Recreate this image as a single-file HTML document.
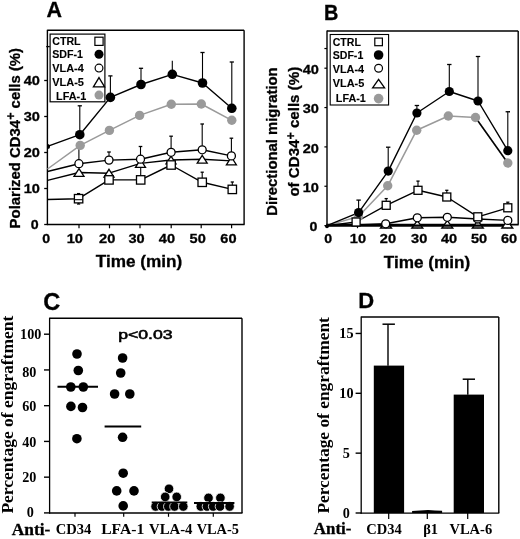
<!DOCTYPE html>
<html><head><meta charset="utf-8"><title>Figure</title>
<style>
html,body{margin:0;padding:0;background:#fff;}
body{width:520px;height:539px;overflow:hidden;font-family:"Liberation Sans", sans-serif;}
svg{display:block;will-change:transform;filter:blur(0.3px);}

</style></head>
<body>
<svg width="520" height="539" viewBox="0 0 520 539">
<rect width="520" height="539" fill="#fff"/>
<line x1="47.4" y1="30.3" x2="244.1" y2="30.3" stroke="#000" stroke-width="1.4"/>
<line x1="244.1" y1="30.3" x2="244.1" y2="224.5" stroke="#000" stroke-width="1.4"/>
<line x1="47.4" y1="29.8" x2="47.4" y2="225.1" stroke="#000" stroke-width="1.4"/>
<line x1="46.8" y1="224.5" x2="244.6" y2="224.5" stroke="#000" stroke-width="1.4"/>
<line x1="44.2" y1="224.5" x2="47.4" y2="224.5" stroke="#000" stroke-width="1.3"/>
<line x1="44.2" y1="188.5" x2="47.4" y2="188.5" stroke="#000" stroke-width="1.3"/>
<line x1="44.2" y1="152.5" x2="47.4" y2="152.5" stroke="#000" stroke-width="1.3"/>
<line x1="44.2" y1="116.5" x2="47.4" y2="116.5" stroke="#000" stroke-width="1.3"/>
<line x1="44.2" y1="80.5" x2="47.4" y2="80.5" stroke="#000" stroke-width="1.3"/>
<line x1="46.2" y1="46.6" x2="49.8" y2="46.6" stroke="#000" stroke-width="1.3"/>
<text x="38.7" y="229.2" font-size="13.2" font-family='"Liberation Sans", sans-serif' font-weight="bold" text-anchor="end" fill="#000" stroke="#000" stroke-width="0.3" textLength="7.9" lengthAdjust="spacingAndGlyphs">0</text>
<text x="39.9" y="193.2" font-size="13.2" font-family='"Liberation Sans", sans-serif' font-weight="bold" text-anchor="end" fill="#000" stroke="#000" stroke-width="0.3" textLength="16.2" lengthAdjust="spacingAndGlyphs">10</text>
<text x="39.9" y="157.2" font-size="13.2" font-family='"Liberation Sans", sans-serif' font-weight="bold" text-anchor="end" fill="#000" stroke="#000" stroke-width="0.3" textLength="16.2" lengthAdjust="spacingAndGlyphs">20</text>
<text x="39.9" y="121.2" font-size="13.2" font-family='"Liberation Sans", sans-serif' font-weight="bold" text-anchor="end" fill="#000" stroke="#000" stroke-width="0.3" textLength="16.2" lengthAdjust="spacingAndGlyphs">30</text>
<text x="39.9" y="85.2" font-size="13.2" font-family='"Liberation Sans", sans-serif' font-weight="bold" text-anchor="end" fill="#000" stroke="#000" stroke-width="0.3" textLength="16.2" lengthAdjust="spacingAndGlyphs">40</text>
<line x1="79" y1="224.5" x2="79" y2="228.3" stroke="#000" stroke-width="1.2"/>
<line x1="109.5" y1="224.5" x2="109.5" y2="228.3" stroke="#000" stroke-width="1.2"/>
<line x1="140" y1="224.5" x2="140" y2="228.3" stroke="#000" stroke-width="1.2"/>
<line x1="171.2" y1="224.5" x2="171.2" y2="228.3" stroke="#000" stroke-width="1.2"/>
<line x1="201.2" y1="224.5" x2="201.2" y2="228.3" stroke="#000" stroke-width="1.2"/>
<line x1="231.6" y1="224.5" x2="231.6" y2="228.3" stroke="#000" stroke-width="1.2"/>
<text x="46.2" y="242.9" font-size="13.2" font-family='"Liberation Sans", sans-serif' font-weight="bold" text-anchor="middle" fill="#000" stroke="#000" stroke-width="0.3" textLength="7.9" lengthAdjust="spacingAndGlyphs">0</text>
<text x="74.75" y="242.9" font-size="13.2" font-family='"Liberation Sans", sans-serif' font-weight="bold" text-anchor="middle" fill="#000" stroke="#000" stroke-width="0.3" textLength="16.2" lengthAdjust="spacingAndGlyphs">10</text>
<text x="107.2" y="242.9" font-size="13.2" font-family='"Liberation Sans", sans-serif' font-weight="bold" text-anchor="middle" fill="#000" stroke="#000" stroke-width="0.3" textLength="16.2" lengthAdjust="spacingAndGlyphs">20</text>
<text x="136.5" y="242.9" font-size="13.2" font-family='"Liberation Sans", sans-serif' font-weight="bold" text-anchor="middle" fill="#000" stroke="#000" stroke-width="0.3" textLength="16.2" lengthAdjust="spacingAndGlyphs">30</text>
<text x="166.9" y="242.9" font-size="13.2" font-family='"Liberation Sans", sans-serif' font-weight="bold" text-anchor="middle" fill="#000" stroke="#000" stroke-width="0.3" textLength="16.2" lengthAdjust="spacingAndGlyphs">40</text>
<text x="197.7" y="242.9" font-size="13.2" font-family='"Liberation Sans", sans-serif' font-weight="bold" text-anchor="middle" fill="#000" stroke="#000" stroke-width="0.3" textLength="16.2" lengthAdjust="spacingAndGlyphs">50</text>
<text x="228.4" y="242.9" font-size="13.2" font-family='"Liberation Sans", sans-serif' font-weight="bold" text-anchor="middle" fill="#000" stroke="#000" stroke-width="0.3" textLength="16.2" lengthAdjust="spacingAndGlyphs">60</text>
<text x="139" y="267.3" font-size="16.2" font-family='"Liberation Sans", sans-serif' font-weight="bold" text-anchor="middle" fill="#000" stroke="#000" stroke-width="0.3" textLength="86.5" lengthAdjust="spacingAndGlyphs">Time (min)</text>
<text x="46.4" y="17.3" font-size="21.5" font-family='"Liberation Sans", sans-serif' font-weight="bold" text-anchor="start" fill="#000" stroke="#000" stroke-width="0.3" textLength="15.5" lengthAdjust="spacingAndGlyphs">A</text>
<text x="20" y="228.4" font-size="14.92" font-family='"Liberation Sans", sans-serif' font-weight="bold" text-anchor="start" fill="#000" stroke="#000" stroke-width="0.3" transform="rotate(-90 20 228.4)">Polarized CD34<tspan font-size="12.5" dy="-4.6">+</tspan><tspan dy="4.6"> cells (%)</tspan></text>
<line x1="79.8" y1="134.7" x2="79.8" y2="105.8" stroke="#000" stroke-width="1.1"/>
<line x1="77.7" y1="105.8" x2="81.9" y2="105.8" stroke="#000" stroke-width="1.3"/>
<line x1="78.9" y1="163.7" x2="78.9" y2="145.4" stroke="#000" stroke-width="1.1"/>
<line x1="78.6" y1="198.7" x2="78.6" y2="193.6" stroke="#000" stroke-width="1.1"/>
<line x1="77" y1="193.6" x2="80.2" y2="193.6" stroke="#000" stroke-width="1.3"/>
<line x1="110.4" y1="97.4" x2="110.4" y2="75.9" stroke="#000" stroke-width="1.1"/>
<line x1="108.3" y1="75.9" x2="112.5" y2="75.9" stroke="#000" stroke-width="1.3"/>
<line x1="109" y1="160.1" x2="109" y2="152" stroke="#000" stroke-width="1.1"/>
<line x1="107.2" y1="152" x2="110.8" y2="152" stroke="#000" stroke-width="1.3"/>
<line x1="141" y1="84.5" x2="141" y2="68.3" stroke="#000" stroke-width="1.1"/>
<line x1="138.9" y1="68.3" x2="143.1" y2="68.3" stroke="#000" stroke-width="1.3"/>
<line x1="140.5" y1="159.2" x2="140.5" y2="146.5" stroke="#000" stroke-width="1.1"/>
<line x1="138.7" y1="146.5" x2="142.3" y2="146.5" stroke="#000" stroke-width="1.3"/>
<line x1="140.7" y1="179.9" x2="140.7" y2="167" stroke="#000" stroke-width="1.1"/>
<line x1="139.1" y1="167" x2="142.3" y2="167" stroke="#000" stroke-width="1.3"/>
<line x1="172.3" y1="74.3" x2="172.3" y2="60.75" stroke="#000" stroke-width="1.1"/>
<line x1="171.1" y1="152.3" x2="171.1" y2="136.2" stroke="#000" stroke-width="1.1"/>
<line x1="169.3" y1="136.2" x2="172.9" y2="136.2" stroke="#000" stroke-width="1.3"/>
<line x1="202.5" y1="83" x2="202.5" y2="52.5" stroke="#000" stroke-width="1.1"/>
<line x1="200.4" y1="52.5" x2="204.6" y2="52.5" stroke="#000" stroke-width="1.3"/>
<line x1="202.2" y1="149.8" x2="202.2" y2="124" stroke="#000" stroke-width="1.1"/>
<line x1="200.4" y1="124" x2="204" y2="124" stroke="#000" stroke-width="1.3"/>
<line x1="202.2" y1="182.3" x2="202.2" y2="172.2" stroke="#000" stroke-width="1.1"/>
<line x1="200.6" y1="172.2" x2="203.8" y2="172.2" stroke="#000" stroke-width="1.3"/>
<line x1="231.8" y1="108.3" x2="231.8" y2="62" stroke="#000" stroke-width="1.1"/>
<line x1="229.7" y1="62" x2="233.9" y2="62" stroke="#000" stroke-width="1.3"/>
<line x1="231.4" y1="155.9" x2="231.4" y2="138.2" stroke="#000" stroke-width="1.1"/>
<line x1="229.6" y1="138.2" x2="233.2" y2="138.2" stroke="#000" stroke-width="1.3"/>
<line x1="232.3" y1="189.4" x2="232.3" y2="182" stroke="#000" stroke-width="1.1"/>
<line x1="230.7" y1="182" x2="233.9" y2="182" stroke="#000" stroke-width="1.3"/>
<line x1="78.6" y1="198.7" x2="78.6" y2="204" stroke="#000" stroke-width="1.1"/>
<line x1="77" y1="204" x2="80.2" y2="204" stroke="#000" stroke-width="1.3"/>
<polyline points="47.5,169 80.2,145.4 109.4,130.4 139.6,115.4 171.3,104.3 201.3,104 231.8,120.3" fill="none" stroke="#9a9a9a" stroke-width="1.5" stroke-linejoin="round"/>
<polyline points="47.5,199.5 78.6,198.7 109,179.9 140.7,179.9 171.1,165 202.2,182.3 232.3,189.4" fill="none" stroke="#000" stroke-width="1.4" stroke-linejoin="round"/>
<polyline points="47.5,180.4 79,172.5 109,173.2 140.5,163.4 171,160 202.2,159.3 231.4,160.9" fill="none" stroke="#000" stroke-width="1.4" stroke-linejoin="round"/>
<polyline points="47.5,171.5 78.9,163.7 109,160.1 140.5,159.2 171.1,152.3 202.2,149.8 231.4,155.9" fill="none" stroke="#000" stroke-width="1.4" stroke-linejoin="round"/>
<polyline points="47.5,146.3 79.8,134.7 110.4,97.4 141,84.5 172.3,74.3 202.5,83 231.8,108.3" fill="none" stroke="#000" stroke-width="1.4" stroke-linejoin="round"/>
<circle cx="80.2" cy="145.4" r="4.7" fill="#9a9a9a" stroke="none" stroke-width="0"/>
<polygon points="79,168.6 84,176.4 74,176.4" fill="#fff" stroke="#000" stroke-width="1.3" stroke-linejoin="miter"/>
<rect x="74.4" y="194.5" width="8.4" height="8.4" fill="#fff" stroke="#000" stroke-width="1.3"/>
<circle cx="78.9" cy="163.7" r="4" fill="#fff" stroke="#000" stroke-width="1.3"/>
<circle cx="79.8" cy="134.7" r="4.8" fill="#000" stroke="none" stroke-width="0"/>
<circle cx="109.4" cy="130.4" r="4.7" fill="#9a9a9a" stroke="none" stroke-width="0"/>
<polygon points="109,169.3 114,177.1 104,177.1" fill="#fff" stroke="#000" stroke-width="1.3" stroke-linejoin="miter"/>
<rect x="104.8" y="175.7" width="8.4" height="8.4" fill="#fff" stroke="#000" stroke-width="1.3"/>
<circle cx="109" cy="160.1" r="4" fill="#fff" stroke="#000" stroke-width="1.3"/>
<circle cx="110.4" cy="97.4" r="4.8" fill="#000" stroke="none" stroke-width="0"/>
<circle cx="139.6" cy="115.4" r="4.7" fill="#9a9a9a" stroke="none" stroke-width="0"/>
<polygon points="140.5,159.5 145.5,167.3 135.5,167.3" fill="#fff" stroke="#000" stroke-width="1.3" stroke-linejoin="miter"/>
<rect x="136.5" y="175.7" width="8.4" height="8.4" fill="#fff" stroke="#000" stroke-width="1.3"/>
<circle cx="140.5" cy="159.2" r="4" fill="#fff" stroke="#000" stroke-width="1.3"/>
<circle cx="141" cy="84.5" r="4.8" fill="#000" stroke="none" stroke-width="0"/>
<circle cx="171.3" cy="104.3" r="4.7" fill="#9a9a9a" stroke="none" stroke-width="0"/>
<polygon points="171,156.1 176,163.9 166,163.9" fill="#fff" stroke="#000" stroke-width="1.3" stroke-linejoin="miter"/>
<rect x="166.9" y="160.8" width="8.4" height="8.4" fill="#fff" stroke="#000" stroke-width="1.3"/>
<circle cx="171.1" cy="152.3" r="4" fill="#fff" stroke="#000" stroke-width="1.3"/>
<circle cx="172.3" cy="74.3" r="4.8" fill="#000" stroke="none" stroke-width="0"/>
<circle cx="201.3" cy="104" r="4.7" fill="#9a9a9a" stroke="none" stroke-width="0"/>
<polygon points="202.2,155.4 207.2,163.2 197.2,163.2" fill="#fff" stroke="#000" stroke-width="1.3" stroke-linejoin="miter"/>
<rect x="198" y="178.1" width="8.4" height="8.4" fill="#fff" stroke="#000" stroke-width="1.3"/>
<circle cx="202.2" cy="149.8" r="4" fill="#fff" stroke="#000" stroke-width="1.3"/>
<circle cx="202.5" cy="83" r="4.8" fill="#000" stroke="none" stroke-width="0"/>
<circle cx="231.8" cy="120.3" r="4.7" fill="#9a9a9a" stroke="none" stroke-width="0"/>
<polygon points="231.4,157 236.4,164.8 226.4,164.8" fill="#fff" stroke="#000" stroke-width="1.3" stroke-linejoin="miter"/>
<rect x="228.1" y="185.2" width="8.4" height="8.4" fill="#fff" stroke="#000" stroke-width="1.3"/>
<circle cx="231.4" cy="155.9" r="4" fill="#fff" stroke="#000" stroke-width="1.3"/>
<circle cx="231.8" cy="108.3" r="4.8" fill="#000" stroke="none" stroke-width="0"/>
<line x1="74.6" y1="199.7" x2="82.6" y2="199.7" stroke="#000" stroke-width="1.1"/>
<path d="M47.5,143.9 A2.5,2.5 0 0 1 47.5,148.9 Z" fill="#000"/>
<rect x="50.1" y="34.1" width="54.8" height="67.7" fill="#fff" stroke="#000" stroke-width="1.2"/>
<text x="52.2" y="44.8" font-size="10" font-family='"Liberation Sans", sans-serif' font-weight="bold" text-anchor="start" fill="#000" stroke="#000" stroke-width="0.1" textLength="28.4" lengthAdjust="spacingAndGlyphs">CTRL</text>
<text x="52.2" y="57.9" font-size="10" font-family='"Liberation Sans", sans-serif' font-weight="bold" text-anchor="start" fill="#000" stroke="#000" stroke-width="0.1" textLength="30.8" lengthAdjust="spacingAndGlyphs">SDF-1</text>
<text x="52.2" y="71.6" font-size="10" font-family='"Liberation Sans", sans-serif' font-weight="bold" text-anchor="start" fill="#000" stroke="#000" stroke-width="0.1" textLength="31.6" lengthAdjust="spacingAndGlyphs">VLA-4</text>
<text x="52.2" y="86.1" font-size="10" font-family='"Liberation Sans", sans-serif' font-weight="bold" text-anchor="start" fill="#000" stroke="#000" stroke-width="0.1" textLength="31.8" lengthAdjust="spacingAndGlyphs">VLA-5</text>
<text x="56" y="99.6" font-size="10" font-family='"Liberation Sans", sans-serif' font-weight="bold" text-anchor="start" fill="#000" stroke="#000" stroke-width="0.1" textLength="30.2" lengthAdjust="spacingAndGlyphs">LFA-1</text>
<rect x="94.9" y="37.2" width="8.2" height="8.2" fill="#fff" stroke="#000" stroke-width="1.2"/>
<circle cx="99" cy="54.2" r="4.5" fill="#000" stroke="none" stroke-width="0"/>
<circle cx="99" cy="68.1" r="3.9" fill="#fff" stroke="#000" stroke-width="1.2"/>
<polygon points="99,77.6 104.6,86.8 93.4,86.8" fill="#fff" stroke="#000" stroke-width="1.3" stroke-linejoin="miter"/>
<circle cx="99" cy="95.1" r="4.5" fill="#9a9a9a" stroke="none" stroke-width="0"/>
<line x1="327" y1="31" x2="518.2" y2="31" stroke="#000" stroke-width="1.4"/>
<line x1="518.2" y1="31" x2="518.2" y2="224.6" stroke="#000" stroke-width="1.4"/>
<line x1="327" y1="30.5" x2="327" y2="225.2" stroke="#000" stroke-width="1.4"/>
<line x1="326.4" y1="224.6" x2="518.7" y2="224.6" stroke="#000" stroke-width="1.6"/>
<line x1="324.4" y1="225.6" x2="327" y2="225.6" stroke="#000" stroke-width="1.2"/>
<line x1="324.4" y1="186.25" x2="327" y2="186.25" stroke="#000" stroke-width="1.2"/>
<line x1="324.4" y1="146.9" x2="327" y2="146.9" stroke="#000" stroke-width="1.2"/>
<line x1="324.4" y1="107.55" x2="327" y2="107.55" stroke="#000" stroke-width="1.2"/>
<line x1="324.4" y1="68.2" x2="327" y2="68.2" stroke="#000" stroke-width="1.2"/>
<line x1="324.4" y1="48.53" x2="327" y2="48.53" stroke="#000" stroke-width="1.2"/>
<text x="317.3" y="231.2" font-size="13.2" font-family='"Liberation Sans", sans-serif' font-weight="bold" text-anchor="end" fill="#000" stroke="#000" stroke-width="0.3" textLength="7.9" lengthAdjust="spacingAndGlyphs">0</text>
<text x="318.9" y="191.85" font-size="13.2" font-family='"Liberation Sans", sans-serif' font-weight="bold" text-anchor="end" fill="#000" stroke="#000" stroke-width="0.3" textLength="16.2" lengthAdjust="spacingAndGlyphs">10</text>
<text x="318.9" y="152.5" font-size="13.2" font-family='"Liberation Sans", sans-serif' font-weight="bold" text-anchor="end" fill="#000" stroke="#000" stroke-width="0.3" textLength="16.2" lengthAdjust="spacingAndGlyphs">20</text>
<text x="318.9" y="113.15" font-size="13.2" font-family='"Liberation Sans", sans-serif' font-weight="bold" text-anchor="end" fill="#000" stroke="#000" stroke-width="0.3" textLength="16.2" lengthAdjust="spacingAndGlyphs">30</text>
<text x="318.9" y="73.8" font-size="13.2" font-family='"Liberation Sans", sans-serif' font-weight="bold" text-anchor="end" fill="#000" stroke="#000" stroke-width="0.3" textLength="16.2" lengthAdjust="spacingAndGlyphs">40</text>
<line x1="357.5" y1="224.6" x2="357.5" y2="228.2" stroke="#000" stroke-width="1.2"/>
<line x1="386.5" y1="224.6" x2="386.5" y2="228.2" stroke="#000" stroke-width="1.2"/>
<line x1="417.3" y1="224.6" x2="417.3" y2="228.2" stroke="#000" stroke-width="1.2"/>
<line x1="447.3" y1="224.6" x2="447.3" y2="228.2" stroke="#000" stroke-width="1.2"/>
<line x1="477.8" y1="224.6" x2="477.8" y2="228.2" stroke="#000" stroke-width="1.2"/>
<line x1="507.5" y1="224.6" x2="507.5" y2="228.2" stroke="#000" stroke-width="1.2"/>
<text x="328.2" y="243" font-size="13.2" font-family='"Liberation Sans", sans-serif' font-weight="bold" text-anchor="middle" fill="#000" stroke="#000" stroke-width="0.3" textLength="7.9" lengthAdjust="spacingAndGlyphs">0</text>
<text x="357.9" y="243" font-size="13.2" font-family='"Liberation Sans", sans-serif' font-weight="bold" text-anchor="middle" fill="#000" stroke="#000" stroke-width="0.3" textLength="16.2" lengthAdjust="spacingAndGlyphs">10</text>
<text x="387.9" y="243" font-size="13.2" font-family='"Liberation Sans", sans-serif' font-weight="bold" text-anchor="middle" fill="#000" stroke="#000" stroke-width="0.3" textLength="16.2" lengthAdjust="spacingAndGlyphs">20</text>
<text x="419.2" y="243" font-size="13.2" font-family='"Liberation Sans", sans-serif' font-weight="bold" text-anchor="middle" fill="#000" stroke="#000" stroke-width="0.3" textLength="16.2" lengthAdjust="spacingAndGlyphs">30</text>
<text x="449" y="243" font-size="13.2" font-family='"Liberation Sans", sans-serif' font-weight="bold" text-anchor="middle" fill="#000" stroke="#000" stroke-width="0.3" textLength="16.2" lengthAdjust="spacingAndGlyphs">40</text>
<text x="479" y="243" font-size="13.2" font-family='"Liberation Sans", sans-serif' font-weight="bold" text-anchor="middle" fill="#000" stroke="#000" stroke-width="0.3" textLength="16.2" lengthAdjust="spacingAndGlyphs">50</text>
<text x="509" y="243" font-size="13.2" font-family='"Liberation Sans", sans-serif' font-weight="bold" text-anchor="middle" fill="#000" stroke="#000" stroke-width="0.3" textLength="16.2" lengthAdjust="spacingAndGlyphs">60</text>
<text x="427" y="268.1" font-size="16.2" font-family='"Liberation Sans", sans-serif' font-weight="bold" text-anchor="middle" fill="#000" stroke="#000" stroke-width="0.3" textLength="86.5" lengthAdjust="spacingAndGlyphs">Time (min)</text>
<text x="324" y="19.5" font-size="21.5" font-family='"Liberation Sans", sans-serif' font-weight="bold" text-anchor="start" fill="#000" stroke="#000" stroke-width="0.3" textLength="14.4" lengthAdjust="spacingAndGlyphs">B</text>
<text x="277.3" y="215.8" font-size="14.85" font-family='"Liberation Sans", sans-serif' font-weight="bold" text-anchor="start" fill="#000" stroke="#000" stroke-width="0.3" transform="rotate(-90 277.3 215.8)">Directional migration</text>
<text x="299.4" y="196.6" font-size="15.1" font-family='"Liberation Sans", sans-serif' font-weight="bold" text-anchor="start" fill="#000" stroke="#000" stroke-width="0.3" transform="rotate(-90 299.4 196.6)">of CD34<tspan font-size="12.5" dy="-4.6">+</tspan><tspan dy="4.6"> cells (%)</tspan></text>
<line x1="358.6" y1="212.6" x2="358.6" y2="200.1" stroke="#000" stroke-width="1.1"/>
<line x1="356.4" y1="200.1" x2="360.8" y2="200.1" stroke="#000" stroke-width="1.3"/>
<line x1="388.2" y1="171.1" x2="388.2" y2="147.2" stroke="#000" stroke-width="1.1"/>
<line x1="386" y1="147.2" x2="390.4" y2="147.2" stroke="#000" stroke-width="1.3"/>
<line x1="386.2" y1="205.3" x2="386.2" y2="198.6" stroke="#000" stroke-width="1.1"/>
<line x1="384.6" y1="198.6" x2="387.8" y2="198.6" stroke="#000" stroke-width="1.3"/>
<line x1="416.9" y1="113" x2="416.9" y2="105.5" stroke="#000" stroke-width="1.1"/>
<line x1="414.7" y1="105.5" x2="419.1" y2="105.5" stroke="#000" stroke-width="1.3"/>
<line x1="418" y1="190.3" x2="418" y2="181.1" stroke="#000" stroke-width="1.1"/>
<line x1="416.4" y1="181.1" x2="419.6" y2="181.1" stroke="#000" stroke-width="1.3"/>
<line x1="449.3" y1="91.5" x2="449.3" y2="64.5" stroke="#000" stroke-width="1.1"/>
<line x1="447.1" y1="64.5" x2="451.5" y2="64.5" stroke="#000" stroke-width="1.3"/>
<line x1="446.8" y1="197" x2="446.8" y2="190.3" stroke="#000" stroke-width="1.1"/>
<line x1="445.2" y1="190.3" x2="448.4" y2="190.3" stroke="#000" stroke-width="1.3"/>
<line x1="478" y1="101" x2="478" y2="56.5" stroke="#000" stroke-width="1.1"/>
<line x1="475.8" y1="56.5" x2="480.2" y2="56.5" stroke="#000" stroke-width="1.3"/>
<line x1="507.8" y1="150.7" x2="507.8" y2="111.75" stroke="#000" stroke-width="1.1"/>
<line x1="505.6" y1="111.75" x2="510" y2="111.75" stroke="#000" stroke-width="1.3"/>
<line x1="507.8" y1="207.8" x2="507.8" y2="202.2" stroke="#000" stroke-width="1.1"/>
<line x1="506.2" y1="202.2" x2="509.4" y2="202.2" stroke="#000" stroke-width="1.3"/>
<polyline points="327,225.6 358.5,216.5 387.7,185.8 416.7,130.2 448.3,116 475.5,117.5 507.8,163" fill="none" stroke="#9a9a9a" stroke-width="1.5" stroke-linejoin="round"/>
<polyline points="475.5,117.5 507.8,163" fill="none" stroke="#000" stroke-width="1.4" stroke-linejoin="round"/>
<polyline points="327,225.6 356.1,222 386.2,205.3 418,190.3 446.8,197 477.8,216.8 507.8,207.8" fill="none" stroke="#000" stroke-width="1.4" stroke-linejoin="round"/>
<polyline points="327,225.6 357,225 385.7,223.8 417.3,217.8 447.3,217.3 477.8,219 507.8,220.4" fill="none" stroke="#000" stroke-width="1.4" stroke-linejoin="round"/>
<polyline points="327,225.6 358.6,212.6 388.2,171.1 416.9,113 449.3,91.5 478,101 507.8,150.7" fill="none" stroke="#000" stroke-width="1.4" stroke-linejoin="round"/>
<polygon points="386,220.6 391.5,228 380.5,228" fill="#fff" stroke="#000" stroke-width="1.3" stroke-linejoin="miter"/>
<polygon points="417.3,220.6 422.8,228 411.8,228" fill="#fff" stroke="#000" stroke-width="1.3" stroke-linejoin="miter"/>
<polygon points="447.3,220.6 452.8,228 441.8,228" fill="#fff" stroke="#000" stroke-width="1.3" stroke-linejoin="miter"/>
<polygon points="477.8,220.6 483.3,228 472.3,228" fill="#fff" stroke="#000" stroke-width="1.3" stroke-linejoin="miter"/>
<polygon points="507.3,220.6 512.8,228 501.8,228" fill="#fff" stroke="#000" stroke-width="1.3" stroke-linejoin="miter"/>
<line x1="327" y1="225.6" x2="503.5" y2="225.6" stroke="#000" stroke-width="2.4"/>
<circle cx="358.5" cy="216.5" r="4.7" fill="#9a9a9a" stroke="none" stroke-width="0"/>
<rect x="352.1" y="218" width="8" height="8" fill="#fff" stroke="#000" stroke-width="1.3"/>
<circle cx="358.6" cy="212.6" r="4.6" fill="#000" stroke="none" stroke-width="0"/>
<circle cx="387.7" cy="185.8" r="4.7" fill="#9a9a9a" stroke="none" stroke-width="0"/>
<circle cx="385.7" cy="223.8" r="4" fill="#fff" stroke="#000" stroke-width="1.3"/>
<rect x="382.2" y="201.3" width="8" height="8" fill="#fff" stroke="#000" stroke-width="1.3"/>
<circle cx="388.2" cy="171.1" r="4.6" fill="#000" stroke="none" stroke-width="0"/>
<circle cx="416.7" cy="130.2" r="4.7" fill="#9a9a9a" stroke="none" stroke-width="0"/>
<circle cx="417.3" cy="217.8" r="4" fill="#fff" stroke="#000" stroke-width="1.3"/>
<rect x="414" y="186.3" width="8" height="8" fill="#fff" stroke="#000" stroke-width="1.3"/>
<circle cx="416.9" cy="113" r="4.6" fill="#000" stroke="none" stroke-width="0"/>
<circle cx="448.3" cy="116" r="4.7" fill="#9a9a9a" stroke="none" stroke-width="0"/>
<circle cx="447.3" cy="217.3" r="4" fill="#fff" stroke="#000" stroke-width="1.3"/>
<rect x="442.8" y="193" width="8" height="8" fill="#fff" stroke="#000" stroke-width="1.3"/>
<circle cx="449.3" cy="91.5" r="4.6" fill="#000" stroke="none" stroke-width="0"/>
<circle cx="475.5" cy="117.5" r="4.7" fill="#9a9a9a" stroke="none" stroke-width="0"/>
<circle cx="477.8" cy="219" r="4" fill="#fff" stroke="#000" stroke-width="1.3"/>
<rect x="473.8" y="212.8" width="8" height="8" fill="#fff" stroke="#000" stroke-width="1.3"/>
<circle cx="478" cy="101" r="4.6" fill="#000" stroke="none" stroke-width="0"/>
<circle cx="507.8" cy="163" r="4.7" fill="#9a9a9a" stroke="none" stroke-width="0"/>
<circle cx="507.8" cy="220.4" r="4" fill="#fff" stroke="#000" stroke-width="1.3"/>
<rect x="503.8" y="203.8" width="8" height="8" fill="#fff" stroke="#000" stroke-width="1.3"/>
<circle cx="507.8" cy="150.7" r="4.6" fill="#000" stroke="none" stroke-width="0"/>
<circle cx="327" cy="226.3" r="1.9" fill="#000" stroke="none" stroke-width="0"/>
<rect x="330.2" y="34.5" width="58.4" height="70.5" fill="#fff" stroke="#000" stroke-width="1.1"/>
<text x="332.7" y="45.6" font-size="10" font-family='"Liberation Sans", sans-serif' font-weight="bold" text-anchor="start" fill="#000" stroke="#000" stroke-width="0.1" textLength="28.2" lengthAdjust="spacingAndGlyphs">CTRL</text>
<text x="332.7" y="59" font-size="10" font-family='"Liberation Sans", sans-serif' font-weight="bold" text-anchor="start" fill="#000" stroke="#000" stroke-width="0.1" textLength="30.6" lengthAdjust="spacingAndGlyphs">SDF-1</text>
<text x="332.7" y="72.6" font-size="10" font-family='"Liberation Sans", sans-serif' font-weight="bold" text-anchor="start" fill="#000" stroke="#000" stroke-width="0.1" textLength="31.4" lengthAdjust="spacingAndGlyphs">VLA-4</text>
<text x="332.7" y="87.4" font-size="10" font-family='"Liberation Sans", sans-serif' font-weight="bold" text-anchor="start" fill="#000" stroke="#000" stroke-width="0.1" textLength="31.6" lengthAdjust="spacingAndGlyphs">VLA-5</text>
<text x="335.8" y="102.3" font-size="10" font-family='"Liberation Sans", sans-serif' font-weight="bold" text-anchor="start" fill="#000" stroke="#000" stroke-width="0.1" textLength="30" lengthAdjust="spacingAndGlyphs">LFA-1</text>
<rect x="374.8" y="38.1" width="7.6" height="7.6" fill="#fff" stroke="#000" stroke-width="1.2"/>
<circle cx="378.6" cy="55" r="4.8" fill="#000" stroke="none" stroke-width="0"/>
<circle cx="378.6" cy="68.3" r="3.9" fill="#fff" stroke="#000" stroke-width="1.2"/>
<polygon points="378.6,79.3 384.6,87.9 372.6,87.9" fill="#fff" stroke="#000" stroke-width="1.3" stroke-linejoin="miter"/>
<circle cx="378.6" cy="98.6" r="4.8" fill="#9a9a9a" stroke="none" stroke-width="0"/>
<line x1="49.6" y1="318.2" x2="242" y2="318.2" stroke="#000" stroke-width="1.4"/>
<line x1="242" y1="318.2" x2="242" y2="513" stroke="#000" stroke-width="1.4"/>
<line x1="49.6" y1="317.7" x2="49.6" y2="513.6" stroke="#000" stroke-width="1.3"/>
<line x1="49" y1="513" x2="242.5" y2="513" stroke="#000" stroke-width="1.4"/>
<line x1="44" y1="512.9" x2="49.6" y2="512.9" stroke="#000" stroke-width="1.4"/>
<line x1="44" y1="477.16" x2="49.6" y2="477.16" stroke="#000" stroke-width="1.4"/>
<line x1="44" y1="441.42" x2="49.6" y2="441.42" stroke="#000" stroke-width="1.4"/>
<line x1="44" y1="405.68" x2="49.6" y2="405.68" stroke="#000" stroke-width="1.4"/>
<line x1="44" y1="369.94" x2="49.6" y2="369.94" stroke="#000" stroke-width="1.4"/>
<line x1="44" y1="334.2" x2="49.6" y2="334.2" stroke="#000" stroke-width="1.4"/>
<text x="30.4" y="517.2" font-size="14.2" font-family='"Liberation Serif", serif' font-weight="bold" text-anchor="middle" fill="#000">0</text>
<text x="29.3" y="482" font-size="14.2" font-family='"Liberation Serif", serif' font-weight="bold" text-anchor="middle" fill="#000">20</text>
<text x="29.3" y="447" font-size="14.2" font-family='"Liberation Serif", serif' font-weight="bold" text-anchor="middle" fill="#000">40</text>
<text x="29.3" y="411" font-size="14.2" font-family='"Liberation Serif", serif' font-weight="bold" text-anchor="middle" fill="#000">60</text>
<text x="29.3" y="377.3" font-size="14.2" font-family='"Liberation Serif", serif' font-weight="bold" text-anchor="middle" fill="#000">80</text>
<text x="30.75" y="338.8" font-size="14.2" font-family='"Liberation Serif", serif' font-weight="bold" text-anchor="middle" fill="#000">100</text>
<line x1="75" y1="513" x2="75" y2="516.8" stroke="#000" stroke-width="1.2"/>
<line x1="123.7" y1="513" x2="123.7" y2="516.8" stroke="#000" stroke-width="1.2"/>
<line x1="168.5" y1="513" x2="168.5" y2="516.8" stroke="#000" stroke-width="1.2"/>
<line x1="213.3" y1="513" x2="213.3" y2="516.8" stroke="#000" stroke-width="1.2"/>
<text x="11.8" y="534.6" font-size="17.2" font-family='"Liberation Serif", serif' font-weight="bold" text-anchor="start" fill="#000" stroke="#000" stroke-width="0.3" textLength="38.6" lengthAdjust="spacingAndGlyphs">Anti-</text>
<text x="73.6" y="534.2" font-size="14.5" font-family='"Liberation Serif", serif' font-weight="bold" text-anchor="middle" fill="#000" textLength="35.6" lengthAdjust="spacingAndGlyphs">CD34</text>
<text x="122.75" y="534.2" font-size="14.5" font-family='"Liberation Serif", serif' font-weight="bold" text-anchor="middle" fill="#000" textLength="43.2" lengthAdjust="spacingAndGlyphs">LFA-1</text>
<text x="170.75" y="534.2" font-size="14.5" font-family='"Liberation Serif", serif' font-weight="bold" text-anchor="middle" fill="#000" textLength="43.6" lengthAdjust="spacingAndGlyphs">VLA-4</text>
<text x="217.75" y="534.2" font-size="14.5" font-family='"Liberation Serif", serif' font-weight="bold" text-anchor="middle" fill="#000" textLength="42.2" lengthAdjust="spacingAndGlyphs">VLA-5</text>
<text x="43.2" y="309.9" font-size="23.6" font-family='"Liberation Sans", sans-serif' font-weight="bold" text-anchor="start" fill="#000" stroke="#000" stroke-width="0.3">C</text>
<text x="145.4" y="339.1" font-size="13.2" font-family='"Liberation Sans", sans-serif' font-weight="normal" text-anchor="middle" fill="#000" stroke="#000" stroke-width="0.55" textLength="54.5" lengthAdjust="spacingAndGlyphs">p&lt;0.03</text>
<text x="12.8" y="513.6" font-size="17.4" font-family='"Liberation Serif", serif' font-weight="bold" text-anchor="start" fill="#000" textLength="198" lengthAdjust="spacingAndGlyphs" transform="rotate(-90 12.8 513.6)">Percentage of engraftment</text>
<line x1="57.5" y1="386.8" x2="98" y2="386.8" stroke="#000" stroke-width="2.0"/>
<line x1="104.6" y1="426.6" x2="141.2" y2="426.6" stroke="#000" stroke-width="2.0"/>
<circle cx="77" cy="354" r="4.8" fill="#000" stroke="none" stroke-width="0"/>
<circle cx="78.3" cy="370.5" r="4.8" fill="#000" stroke="none" stroke-width="0"/>
<circle cx="70.8" cy="387" r="4.8" fill="#000" stroke="none" stroke-width="0"/>
<circle cx="83.3" cy="387" r="4.8" fill="#000" stroke="none" stroke-width="0"/>
<circle cx="70.9" cy="406.4" r="4.8" fill="#000" stroke="none" stroke-width="0"/>
<circle cx="82.5" cy="407.5" r="4.8" fill="#000" stroke="none" stroke-width="0"/>
<circle cx="76.9" cy="438.7" r="4.8" fill="#000" stroke="none" stroke-width="0"/>
<circle cx="122.6" cy="358" r="4.8" fill="#000" stroke="none" stroke-width="0"/>
<circle cx="120.7" cy="373" r="4.8" fill="#000" stroke="none" stroke-width="0"/>
<circle cx="114.6" cy="394" r="4.8" fill="#000" stroke="none" stroke-width="0"/>
<circle cx="129.8" cy="394" r="4.8" fill="#000" stroke="none" stroke-width="0"/>
<circle cx="122.6" cy="437.3" r="4.8" fill="#000" stroke="none" stroke-width="0"/>
<circle cx="123.2" cy="473.2" r="4.8" fill="#000" stroke="none" stroke-width="0"/>
<circle cx="116.7" cy="490.9" r="4.8" fill="#000" stroke="none" stroke-width="0"/>
<circle cx="134" cy="490.9" r="4.8" fill="#000" stroke="none" stroke-width="0"/>
<circle cx="123.2" cy="505.9" r="4.8" fill="#000" stroke="none" stroke-width="0"/>
<circle cx="169" cy="488.8" r="4.8" fill="#000" stroke="#fff" stroke-width="0.8"/>
<circle cx="165.2" cy="496.9" r="4.8" fill="#000" stroke="#fff" stroke-width="0.8"/>
<circle cx="176.7" cy="496.9" r="4.8" fill="#000" stroke="#fff" stroke-width="0.8"/>
<circle cx="155.6" cy="506.5" r="4.8" fill="#000" stroke="#fff" stroke-width="0.8"/>
<circle cx="162" cy="506.5" r="4.8" fill="#000" stroke="#fff" stroke-width="0.8"/>
<circle cx="168.3" cy="506.5" r="4.8" fill="#000" stroke="#fff" stroke-width="0.8"/>
<circle cx="174.5" cy="506.5" r="4.8" fill="#000" stroke="#fff" stroke-width="0.8"/>
<circle cx="183.3" cy="506.5" r="4.8" fill="#000" stroke="#fff" stroke-width="0.8"/>
<circle cx="208.5" cy="497.9" r="4.8" fill="#000" stroke="#fff" stroke-width="0.8"/>
<circle cx="220.4" cy="497.9" r="4.8" fill="#000" stroke="#fff" stroke-width="0.8"/>
<circle cx="200.8" cy="506.5" r="4.8" fill="#000" stroke="#fff" stroke-width="0.8"/>
<circle cx="207" cy="506.5" r="4.8" fill="#000" stroke="#fff" stroke-width="0.8"/>
<circle cx="213.2" cy="506.5" r="4.8" fill="#000" stroke="#fff" stroke-width="0.8"/>
<circle cx="220" cy="506.5" r="4.8" fill="#000" stroke="#fff" stroke-width="0.8"/>
<circle cx="229.6" cy="506.5" r="4.8" fill="#000" stroke="#fff" stroke-width="0.8"/>
<line x1="151.7" y1="502.3" x2="187.3" y2="502.3" stroke="#000" stroke-width="1.8"/>
<line x1="194" y1="503" x2="234.4" y2="503" stroke="#000" stroke-width="1.8"/>
<line x1="361.2" y1="317" x2="498.8" y2="317" stroke="#000" stroke-width="1.4"/>
<line x1="498.8" y1="317" x2="498.8" y2="513.1" stroke="#000" stroke-width="1.4"/>
<line x1="361.2" y1="316.5" x2="361.2" y2="513.7" stroke="#000" stroke-width="1.3"/>
<line x1="360.6" y1="513.1" x2="499.3" y2="513.1" stroke="#000" stroke-width="1.4"/>
<line x1="355.6" y1="513" x2="361.2" y2="513" stroke="#000" stroke-width="1.4"/>
<line x1="355.6" y1="453.15" x2="361.2" y2="453.15" stroke="#000" stroke-width="1.4"/>
<line x1="355.6" y1="393.3" x2="361.2" y2="393.3" stroke="#000" stroke-width="1.4"/>
<line x1="355.6" y1="333.45" x2="361.2" y2="333.45" stroke="#000" stroke-width="1.4"/>
<text x="346.4" y="517.8" font-size="14.2" font-family='"Liberation Serif", serif' font-weight="bold" text-anchor="middle" fill="#000">0</text>
<text x="346.4" y="457.95" font-size="14.2" font-family='"Liberation Serif", serif' font-weight="bold" text-anchor="middle" fill="#000">5</text>
<text x="346.4" y="398.1" font-size="14.2" font-family='"Liberation Serif", serif' font-weight="bold" text-anchor="middle" fill="#000">10</text>
<text x="346.4" y="338.25" font-size="14.2" font-family='"Liberation Serif", serif' font-weight="bold" text-anchor="middle" fill="#000">15</text>
<line x1="388.7" y1="513.1" x2="388.7" y2="518.9" stroke="#000" stroke-width="1.2"/>
<line x1="427.3" y1="513.1" x2="427.3" y2="518.9" stroke="#000" stroke-width="1.2"/>
<line x1="467.7" y1="513.1" x2="467.7" y2="518.9" stroke="#000" stroke-width="1.2"/>
<rect x="373.8" y="365.6" width="30.3" height="147.4" fill="#000"/>
<rect x="453.7" y="394.6" width="30.3" height="118.4" fill="#000"/>
<path d="M412.1,513 L412.1,511 L420,510.6 L428,509.9 L435,510.5 L442.1,510.8 L442.1,513 Z" fill="#000"/>
<line x1="388" y1="365.8" x2="388" y2="324.2" stroke="#000" stroke-width="1.4"/>
<line x1="382.5" y1="324.2" x2="394.9" y2="324.2" stroke="#000" stroke-width="1.5"/>
<line x1="467.8" y1="394.8" x2="467.8" y2="379.2" stroke="#000" stroke-width="1.4"/>
<line x1="462.7" y1="379.2" x2="475" y2="379.2" stroke="#000" stroke-width="1.5"/>
<text x="313.8" y="534.2" font-size="16.8" font-family='"Liberation Serif", serif' font-weight="bold" text-anchor="start" fill="#000" stroke="#000" stroke-width="0.3" textLength="37.6" lengthAdjust="spacingAndGlyphs">Anti-</text>
<text x="384.1" y="534.2" font-size="14.5" font-family='"Liberation Serif", serif' font-weight="bold" text-anchor="middle" fill="#000">CD34</text>
<text x="430.6" y="533.8" font-size="14.5" font-family='"Liberation Serif", serif' font-weight="bold" text-anchor="middle" fill="#000">β1</text>
<text x="470.8" y="534.3" font-size="14.5" font-family='"Liberation Serif", serif' font-weight="bold" text-anchor="middle" fill="#000">VLA-6</text>
<text x="358.3" y="307.6" font-size="22" font-family='"Liberation Sans", sans-serif' font-weight="bold" text-anchor="start" fill="#000" stroke="#000" stroke-width="0.3">D</text>
<text x="328.6" y="513.6" font-size="17.4" font-family='"Liberation Serif", serif' font-weight="bold" text-anchor="start" fill="#000" textLength="196.5" lengthAdjust="spacingAndGlyphs" transform="rotate(-90 328.6 513.6)">Percentage of engraftment</text>
</svg>
</body></html>
